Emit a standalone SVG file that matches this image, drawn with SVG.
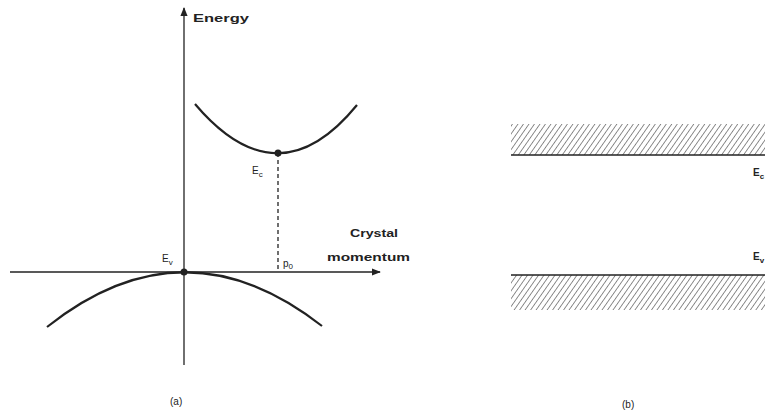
<svg xmlns="http://www.w3.org/2000/svg" width="765" height="414" viewBox="0 0 765 414">
<style>
.ln{stroke:#222;fill:none;stroke-width:1.3}
.crv{stroke:#222;fill:none;stroke-width:2.2}
.t{font-family:"Liberation Sans",Arial,sans-serif;fill:#222;font-size:10px}
.b{font-weight:bold}
</style>
<defs>
<pattern id="hatch" patternUnits="userSpaceOnUse" width="4.5" height="5" patternTransform="rotate(35)">
<line x1="0" y1="0" x2="0" y2="5" stroke="#444" stroke-width="1.2"/>
</pattern>
<marker id="arr" viewBox="0 0 10 10" refX="9" refY="5" markerWidth="7" markerHeight="7" orient="auto">
<path d="M0,1 L10,5 L0,9 z" fill="#222"/>
</marker>
</defs>
<rect width="765" height="414" fill="#fff"/>
<g id="connectors">
<line class="ln" x1="184" y1="365" x2="184" y2="8" marker-end="url(#arr)"/>
<line class="ln" x1="10" y1="272" x2="380" y2="272" marker-end="url(#arr)"/>
<line class="ln" x1="278" y1="153" x2="278" y2="272" stroke-dasharray="4,3"/>
</g>
<g id="conduction-band">
<path class="crv" d="M195,104 Q278,202 357,105"/>
<circle cx="278" cy="153" r="3.5" fill="#222"/>
<text class="t" x="252" y="174" font-size="12">E<tspan font-size="8" dy="3">c</tspan></text>
</g>
<g id="valence-band">
<path class="crv" d="M47,327 Q184,218 322,326"/>
<circle cx="184" cy="272" r="3.5" fill="#222"/>
<text class="t" x="162" y="262" font-size="12">E<tspan font-size="8" dy="3">v</tspan></text>
</g>
<g id="labels-a">
<text class="t b" x="193" y="22" font-size="12" textLength="56" lengthAdjust="spacingAndGlyphs">Energy</text>
<text class="t b" x="350" y="237" font-size="12" textLength="48" lengthAdjust="spacingAndGlyphs">Crystal</text>
<text class="t b" x="327" y="261" font-size="12" textLength="83" lengthAdjust="spacingAndGlyphs">momentum</text>
<text class="t" x="283" y="267" font-size="11">p<tspan font-size="8" dy="2">0</tspan></text>
<text class="t" x="170" y="405" font-size="11">(a)</text>
</g>
<g id="band-upper">
<rect x="511" y="124" width="254" height="31" fill="url(#hatch)"/>
<line class="ln" x1="511" y1="155" x2="765" y2="155" stroke-width="1.6"/>
<text class="t b" x="753" y="176" font-size="12">E<tspan font-size="8" dy="3">c</tspan></text>
</g>
<g id="band-lower">
<rect x="511" y="275" width="254" height="35" fill="url(#hatch)"/>
<line class="ln" x1="511" y1="275" x2="765" y2="275" stroke-width="1.6"/>
<text class="t b" x="753" y="260" font-size="12">E<tspan font-size="8" dy="3">v</tspan></text>
</g>
<text class="t" x="622" y="408" font-size="11">(b)</text>
</svg>
